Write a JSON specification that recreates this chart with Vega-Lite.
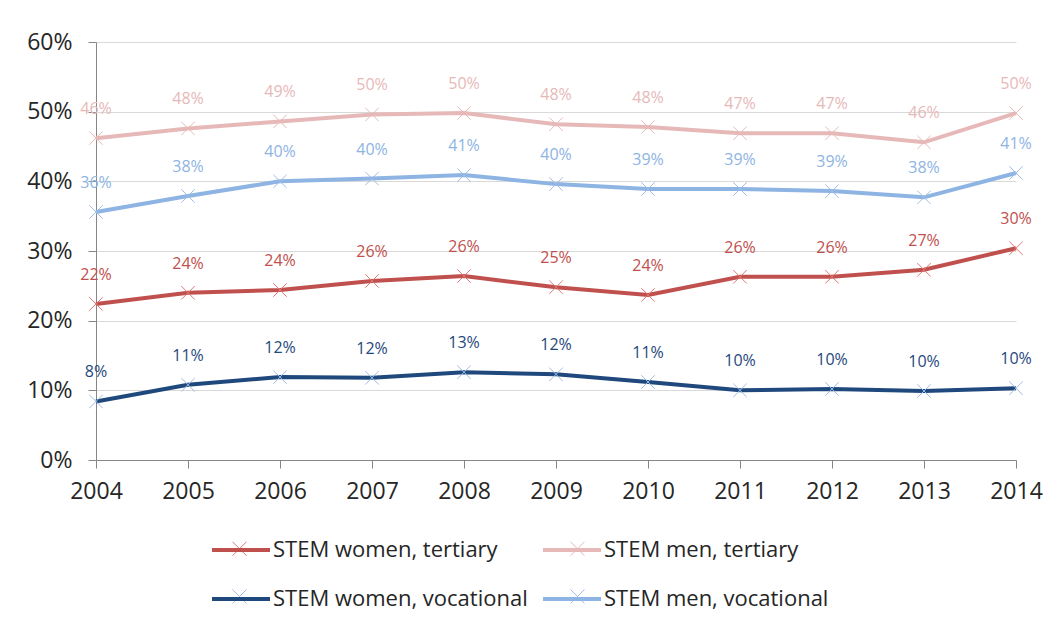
{
  "$schema": "https://vega.github.io/schema/vega-lite/v6.json",
  "width": 920,
  "height": 418,
  "autosize": {"type": "none"},
  "padding": {"left": 96, "top": 42, "right": 46, "bottom": 167},
  "background": "white",
  "config": {
    "view": {"stroke": null},
    "font": "Open Sans",
    "axis": {"labelFont": "Open Sans", "labelFontSize": 23, "labelColor": "#262626", "domainColor": "#868686", "tickColor": "#868686", "tickSize": 8, "gridColor": "#D9D9D9", "title": null}
  },
  "data": {
    "values": [
      {"year": 2004, "series": "STEM women, tertiary", "value": 0.224},
      {"year": 2005, "series": "STEM women, tertiary", "value": 0.240},
      {"year": 2006, "series": "STEM women, tertiary", "value": 0.244},
      {"year": 2007, "series": "STEM women, tertiary", "value": 0.257},
      {"year": 2008, "series": "STEM women, tertiary", "value": 0.264},
      {"year": 2009, "series": "STEM women, tertiary", "value": 0.248},
      {"year": 2010, "series": "STEM women, tertiary", "value": 0.237},
      {"year": 2011, "series": "STEM women, tertiary", "value": 0.263},
      {"year": 2012, "series": "STEM women, tertiary", "value": 0.263},
      {"year": 2013, "series": "STEM women, tertiary", "value": 0.273},
      {"year": 2014, "series": "STEM women, tertiary", "value": 0.304},
      {"year": 2004, "series": "STEM men, tertiary", "value": 0.462},
      {"year": 2005, "series": "STEM men, tertiary", "value": 0.476},
      {"year": 2006, "series": "STEM men, tertiary", "value": 0.486},
      {"year": 2007, "series": "STEM men, tertiary", "value": 0.496},
      {"year": 2008, "series": "STEM men, tertiary", "value": 0.498},
      {"year": 2009, "series": "STEM men, tertiary", "value": 0.482},
      {"year": 2010, "series": "STEM men, tertiary", "value": 0.478},
      {"year": 2011, "series": "STEM men, tertiary", "value": 0.469},
      {"year": 2012, "series": "STEM men, tertiary", "value": 0.469},
      {"year": 2013, "series": "STEM men, tertiary", "value": 0.456},
      {"year": 2014, "series": "STEM men, tertiary", "value": 0.498},
      {"year": 2004, "series": "STEM women, vocational", "value": 0.084},
      {"year": 2005, "series": "STEM women, vocational", "value": 0.108},
      {"year": 2006, "series": "STEM women, vocational", "value": 0.119},
      {"year": 2007, "series": "STEM women, vocational", "value": 0.118},
      {"year": 2008, "series": "STEM women, vocational", "value": 0.126},
      {"year": 2009, "series": "STEM women, vocational", "value": 0.123},
      {"year": 2010, "series": "STEM women, vocational", "value": 0.112},
      {"year": 2011, "series": "STEM women, vocational", "value": 0.100},
      {"year": 2012, "series": "STEM women, vocational", "value": 0.102},
      {"year": 2013, "series": "STEM women, vocational", "value": 0.099},
      {"year": 2014, "series": "STEM women, vocational", "value": 0.103},
      {"year": 2004, "series": "STEM men, vocational", "value": 0.356},
      {"year": 2005, "series": "STEM men, vocational", "value": 0.379},
      {"year": 2006, "series": "STEM men, vocational", "value": 0.400},
      {"year": 2007, "series": "STEM men, vocational", "value": 0.404},
      {"year": 2008, "series": "STEM men, vocational", "value": 0.409},
      {"year": 2009, "series": "STEM men, vocational", "value": 0.396},
      {"year": 2010, "series": "STEM men, vocational", "value": 0.389},
      {"year": 2011, "series": "STEM men, vocational", "value": 0.389},
      {"year": 2012, "series": "STEM men, vocational", "value": 0.386},
      {"year": 2013, "series": "STEM men, vocational", "value": 0.377},
      {"year": 2014, "series": "STEM men, vocational", "value": 0.412}
    ]
  },
  "encoding": {
    "x": {
      "field": "year", "type": "quantitative",
      "scale": {"domain": [2004, 2014], "nice": false, "zero": false},
      "axis": {"format": "d", "values": [2004,2005,2006,2007,2008,2009,2010,2011,2012,2013,2014], "grid": false, "labelPadding": 12, "labelFlush": false}
    },
    "y": {
      "field": "value", "type": "quantitative",
      "scale": {"domain": [0, 0.6], "nice": false},
      "axis": {"format": ".0%", "values": [0, 0.1, 0.2, 0.3, 0.4, 0.5, 0.6], "grid": true, "labelPadding": 16}
    }
  },
  "layer": [
    {
      "mark": {"type": "line", "strokeWidth": 4},
      "encoding": {
        "color": {
          "field": "series", "type": "nominal",
          "scale": {"domain": ["STEM women, tertiary", "STEM men, tertiary", "STEM women, vocational", "STEM men, vocational"], "range": ["#C0504D", "#E6B9B8", "#1F497D", "#8EB4E3"]},
          "legend": {
            "title": null,
            "orient": "none",
            "legendX": 114,
            "legendY": 477,
            "direction": "horizontal",
            "columns": 2,
            "columnPadding": 7,
            "rowPadding": 7,
            "symbolType": "M-1,0L1,0",
            "symbolSize": 3364,
            "symbolStrokeWidth": 4,
            "symbolOffset": 0,
            "labelFont": "Open Sans",
            "labelFontSize": 22,
            "labelColor": "#262626",
            "labelLimit": 400,
            "labelOffset": 1
          }
        },
        "detail": {"field": "series"}
      }
    },
    {
      "mark": {"type": "point", "shape": "M-1,-1L1,1M-1,1L1,-1", "size": 180, "strokeWidth": 1, "filled": false, "opacity": 1},
      "encoding": {
        "stroke": {
          "field": "series", "type": "nominal",
          "scale": {"domain": ["STEM women, tertiary", "STEM men, tertiary", "STEM women, vocational", "STEM men, vocational"], "range": ["#E07774", "#E6B9B8", "#9DBDE6", "#9DBDE6"]},
          "legend": {
            "title": null,
            "orient": "none",
            "legendX": 114,
            "legendY": 477,
            "direction": "horizontal",
            "columns": 2,
            "columnPadding": 278,
            "rowPadding": 7,
            "symbolType": "M-0.24,-0.24L0.24,0.24M-0.24,0.24L0.24,-0.24",
            "symbolSize": 3364,
            "symbolStrokeWidth": 1,
            "symbolFillColor": "transparent",
            "symbolOffset": 0,
            "labelFontSize": 22,
            "labelExpr": "''",
            "labelOffset": 1
          }
        }
      }
    },
    {
      "mark": {"type": "text", "dy": -29, "fontSize": 16, "font": "Open Sans"},
      "encoding": {
        "text": {"field": "value", "type": "quantitative", "format": ".0%"},
        "color": {
          "field": "series", "type": "nominal",
          "scale": {"domain": ["STEM women, tertiary", "STEM men, tertiary", "STEM women, vocational", "STEM men, vocational"], "range": ["#C0504D", "#E6B9B8", "#1F497D", "#8EB4E3"]},
          "legend": null
        },
        "fontWeight": {
          "field": "series", "type": "nominal",
          "scale": {"domain": ["STEM women, tertiary", "STEM men, tertiary", "STEM women, vocational", "STEM men, vocational"], "range": ["bold", "normal", "bold", "normal"]},
          "legend": null
        }
      }
    }
  ],
  "resolve": {"scale": {"color": "independent"}}
}
